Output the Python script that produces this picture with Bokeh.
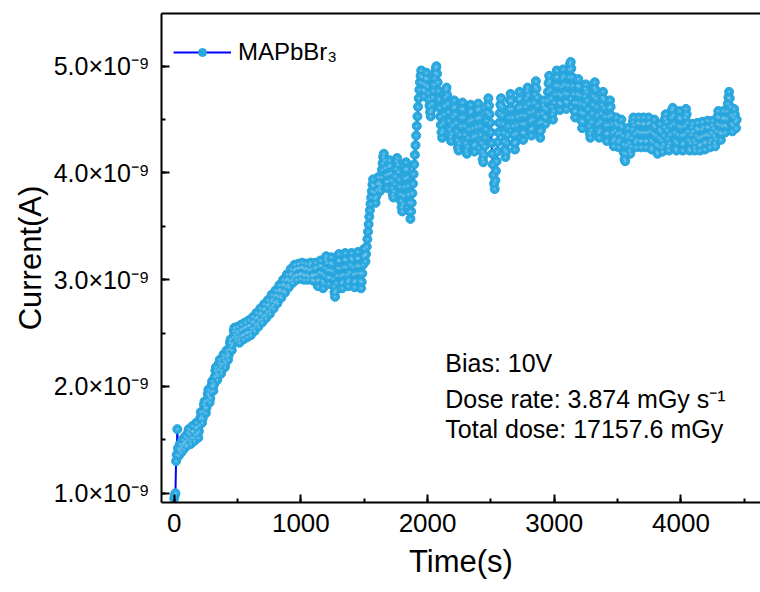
import numpy as np
from bokeh.plotting import figure
from bokeh.models import (Range1d, LinearAxis, SingleIntervalTicker, CustomJSTickFormatter,
                          Legend, LegendItem, Label, ColumnDataSource)
from bokeh.embed import file_html
from bokeh.resources import INLINE

# ---------------- data ----------------
series_name = "MAPbBr₃"
time_step_s = 5  # sampling interval of the read-off values (s)
# current in nA (×10⁻⁹ A), one value per 5 s (rows of 100 s)
current_nA = [
    0.95, 0.98, 1.00, 1.30, 1.36, 1.60, 1.42, 1.35, 1.40, 1.46, 1.42, 1.38, 1.44, 1.50, 1.46, 1.41, 1.47, 1.53, 1.49, 1.44,
    1.45, 1.51, 1.57, 1.60, 1.55, 1.49, 1.46, 1.52, 1.58, 1.63, 1.58, 1.52, 1.49, 1.55, 1.61, 1.66, 1.62, 1.56, 1.52, 1.58,
    1.64, 1.70, 1.76, 1.72, 1.66, 1.70, 1.77, 1.83, 1.86, 1.80, 1.75, 1.80, 1.87, 1.93, 1.97, 1.91, 1.85, 1.89, 1.95, 2.01,
    2.05, 2.00, 1.96, 2.02, 2.09, 2.15, 2.18, 2.12, 2.06, 2.10, 2.16, 2.22, 2.25, 2.19, 2.12, 2.15, 2.21, 2.27, 2.30, 2.24,
    2.18, 2.22, 2.28, 2.34, 2.31, 2.25, 2.29, 2.35, 2.41, 2.44, 2.38, 2.34, 2.40, 2.46, 2.52, 2.55, 2.49, 2.43, 2.46, 2.52,
    2.56, 2.50, 2.44, 2.41, 2.47, 2.53, 2.58, 2.54, 2.48, 2.44, 2.49, 2.55, 2.60, 2.56, 2.50, 2.46, 2.51, 2.57, 2.62, 2.57,
    2.51, 2.48, 2.54, 2.60, 2.65, 2.61, 2.55, 2.52, 2.58, 2.64, 2.69, 2.65, 2.59, 2.56, 2.62, 2.68, 2.73, 2.69, 2.63, 2.60,
    2.66, 2.72, 2.77, 2.73, 2.67, 2.64, 2.70, 2.76, 2.81, 2.77, 2.71, 2.68, 2.74, 2.80, 2.86, 2.82, 2.76, 2.73, 2.79, 2.85,
    2.90, 2.86, 2.80, 2.78, 2.84, 2.90, 2.95, 2.91, 2.85, 2.83, 2.89, 2.95, 3.00, 2.96, 2.90, 2.88, 2.94, 3.00, 3.05, 3.01,
    2.95, 2.93, 2.99, 3.05, 3.10, 3.06, 3.00, 2.97, 3.03, 3.09, 3.14, 3.10, 3.04, 3.00, 3.05, 3.11, 3.15, 3.11, 3.05, 3.01,
    3.06, 3.12, 3.16, 3.11, 3.05, 3.00, 3.04, 3.10, 3.15, 3.11, 3.05, 3.00, 3.03, 3.09, 3.14, 3.16, 3.10, 3.04, 3.00, 3.04,
    2.99, 3.05, 3.11, 3.16, 3.12, 3.05, 2.99, 2.94, 3.00, 3.07, 3.13, 3.18, 3.13, 3.06, 2.99, 2.92, 2.97, 3.04, 3.11, 3.19,
    3.22, 3.16, 3.09, 3.02, 2.96, 3.02, 3.09, 3.16, 3.21, 3.15, 3.08, 3.01, 2.94, 2.88, 2.84, 2.90, 2.97, 3.04, 3.11, 3.18,
    3.24, 3.18, 3.11, 3.04, 2.97, 2.92, 2.98, 3.05, 3.12, 3.19, 3.25, 3.19, 3.12, 3.05, 2.98, 2.94, 3.00, 3.07, 3.14, 3.20,
    3.25, 3.19, 3.12, 3.05, 2.98, 2.93, 2.99, 3.06, 3.13, 3.20, 3.26, 3.20, 3.13, 3.06, 2.99, 2.92, 2.98, 3.06, 3.14, 3.22,
    3.29, 3.23, 3.17, 3.24, 3.31, 3.38, 3.45, 3.52, 3.59, 3.65, 3.71, 3.77, 3.83, 3.89, 3.94, 3.88, 3.82, 3.76, 3.72, 3.78,
    3.84, 3.90, 3.96, 3.91, 3.86, 3.83, 3.89, 3.96, 4.03, 4.09, 4.15, 4.18, 4.12, 4.05, 3.98, 3.92, 3.86, 3.92, 3.99, 4.06,
    4.12, 4.07, 4.00, 3.93, 3.86, 3.80, 3.77, 3.83, 3.90, 3.97, 4.04, 4.11, 4.14, 4.08, 4.01, 3.94, 3.87, 3.80, 3.74, 3.68,
    3.64, 3.71, 3.79, 3.87, 3.95, 4.03, 4.10, 4.04, 3.96, 3.88, 3.80, 3.72, 3.64, 3.57, 3.64, 3.72, 3.81, 3.90, 3.99, 4.08,
    4.17, 4.26, 4.35, 4.44, 4.53, 4.62, 4.70, 4.78, 4.85, 4.91, 4.96, 4.90, 4.84, 4.78, 4.72, 4.77, 4.83, 4.89, 4.94, 4.88,
    4.81, 4.75, 4.69, 4.63, 4.57, 4.53, 4.59, 4.65, 4.71, 4.77, 4.83, 4.89, 4.94, 4.98, 5.00, 4.93, 4.85, 4.77, 4.69, 4.61,
    4.53, 4.45, 4.38, 4.33, 4.40, 4.47, 4.55, 4.63, 4.71, 4.78, 4.80, 4.73, 4.65, 4.57, 4.49, 4.41, 4.34, 4.30, 4.37, 4.45,
    4.53, 4.61, 4.68, 4.62, 4.55, 4.47, 4.39, 4.31, 4.24, 4.21, 4.28, 4.36, 4.44, 4.52, 4.60, 4.66, 4.60, 4.52, 4.44, 4.36,
    4.28, 4.21, 4.18, 4.25, 4.33, 4.41, 4.49, 4.57, 4.64, 4.58, 4.50, 4.42, 4.34, 4.26, 4.20, 4.27, 4.35, 4.43, 4.51, 4.59,
    4.65, 4.60, 4.52, 4.44, 4.36, 4.28, 4.20, 4.13, 4.10, 4.17, 4.25, 4.33, 4.41, 4.49, 4.57, 4.64, 4.70, 4.63, 4.55, 4.47,
    4.38, 4.28, 4.18, 4.08, 3.98, 3.90, 3.85, 3.93, 4.02, 4.11, 4.20, 4.29, 4.38, 4.47, 4.56, 4.64, 4.70, 4.62, 4.54, 4.46,
    4.38, 4.30, 4.22, 4.15, 4.20, 4.28, 4.36, 4.44, 4.52, 4.60, 4.68, 4.74, 4.68, 4.60, 4.52, 4.44, 4.36, 4.28, 4.22, 4.29,
    4.37, 4.45, 4.53, 4.61, 4.69, 4.76, 4.70, 4.62, 4.54, 4.46, 4.38, 4.31, 4.38, 4.46, 4.54, 4.62, 4.70, 4.77, 4.80, 4.73,
    4.65, 4.57, 4.49, 4.41, 4.35, 4.42, 4.50, 4.58, 4.66, 4.74, 4.81, 4.86, 4.79, 4.71, 4.63, 4.55, 4.47, 4.39, 4.33, 4.40,
    4.48, 4.56, 4.64, 4.68, 4.61, 4.53, 4.46, 4.52, 4.60, 4.68, 4.76, 4.84, 4.91, 4.86, 4.78, 4.70, 4.62, 4.55, 4.50, 4.58,
    4.66, 4.74, 4.82, 4.90, 4.96, 4.90, 4.82, 4.74, 4.66, 4.59, 4.65, 4.73, 4.81, 4.89, 4.97, 4.91, 4.83, 4.75, 4.67, 4.60,
    4.66, 4.74, 4.82, 4.90, 4.97, 5.02, 5.04, 4.98, 4.90, 4.82, 4.74, 4.66, 4.58, 4.52, 4.58, 4.66, 4.74, 4.82, 4.88, 4.81,
    4.73, 4.65, 4.57, 4.49, 4.42, 4.48, 4.56, 4.64, 4.72, 4.79, 4.83, 4.76, 4.68, 4.60, 4.52, 4.44, 4.37, 4.33, 4.40, 4.48,
    4.56, 4.64, 4.72, 4.80, 4.85, 4.78, 4.70, 4.62, 4.54, 4.46, 4.38, 4.33, 4.40, 4.48, 4.56, 4.64, 4.71, 4.76, 4.69, 4.61,
    4.53, 4.45, 4.37, 4.30, 4.37, 4.45, 4.53, 4.61, 4.68, 4.62, 4.54, 4.46, 4.38, 4.30, 4.25, 4.32, 4.40, 4.47, 4.52, 4.45,
    4.37, 4.29, 4.24, 4.31, 4.38, 4.45, 4.50, 4.43, 4.35, 4.27, 4.19, 4.13, 4.11, 4.18, 4.26, 4.34, 4.42, 4.36, 4.28, 4.21,
    4.18, 4.25, 4.33, 4.41, 4.48, 4.52, 4.45, 4.37, 4.29, 4.24, 4.31, 4.39, 4.47, 4.52, 4.46, 4.38, 4.30, 4.24, 4.30, 4.38,
    4.46, 4.52, 4.46, 4.38, 4.30, 4.24, 4.30, 4.38, 4.46, 4.52, 4.47, 4.39, 4.31, 4.24, 4.22, 4.29, 4.37, 4.45, 4.50, 4.43,
    4.35, 4.27, 4.20, 4.18, 4.25, 4.33, 4.41, 4.46, 4.39, 4.31, 4.24, 4.20, 4.27, 4.35, 4.43, 4.51, 4.55, 4.48, 4.40, 4.32,
    4.25, 4.21, 4.28, 4.36, 4.44, 4.52, 4.59, 4.61, 4.54, 4.46, 4.38, 4.30, 4.23, 4.21, 4.28, 4.36, 4.44, 4.52, 4.58, 4.51,
    4.43, 4.35, 4.27, 4.21, 4.28, 4.36, 4.44, 4.52, 4.60, 4.55, 4.47, 4.39, 4.31, 4.23, 4.21, 4.28, 4.36, 4.43, 4.46, 4.39,
    4.31, 4.24, 4.21, 4.28, 4.35, 4.42, 4.47, 4.41, 4.33, 4.26, 4.21, 4.27, 4.34, 4.41, 4.48, 4.43, 4.35, 4.28, 4.22, 4.29,
    4.36, 4.43, 4.49, 4.43, 4.35, 4.28, 4.24, 4.31, 4.38, 4.45, 4.49, 4.42, 4.35, 4.28, 4.25, 4.32, 4.39, 4.46, 4.53, 4.58,
    4.52, 4.45, 4.38, 4.31, 4.37, 4.44, 4.51, 4.58, 4.52, 4.45, 4.38, 4.44, 4.51, 4.58, 4.65, 4.71, 4.76, 4.70, 4.62, 4.54,
    4.46, 4.39, 4.45, 4.52, 4.60, 4.55, 4.48, 4.42, 4.50,
]
time_s = [i * time_step_s for i in range(len(current_nA))]
current_A = [v * 1e-9 for v in current_nA]

x_title = "Time(s)"
y_title = "Current(A)"
annotation_lines = ["Bias: 10V", "Dose rate: 3.874 mGy s⁻¹", "Total dose: 17157.6 mGy"]

# ---------------- figure ----------------
FONT = "Liberation Sans"
p = figure(width=760, height=592,
           x_range=Range1d(-100, 4628), y_range=Range1d(0.913e-9, 5.494e-9),
           output_backend="svg", toolbar_location=None,
           min_border_left=161, min_border_right=0, min_border_top=13, min_border_bottom=90)
p.outline_line_color = None
p.grid.visible = False
p.background_fill_color = "white"
p.border_fill_color = "white"

src = ColumnDataSource(dict(t=time_s, i=current_A))
line_r = p.line("t", "i", source=src, line_color="#0000ff", line_width=2)
scat_r = p.scatter("t", "i", source=src, size=9, marker="circle",
                   fill_color="#2aa8e0", line_color="#27a3dc", line_width=1)
hl_r = p.scatter("t", "i", source=src, size=3, marker="circle",
                 fill_color="#c6e8f8", line_color=None, fill_alpha=0.3)

# axes
for ax in (p.xaxis[0], p.yaxis[0]):
    ax.axis_line_width = 2
    ax.axis_line_color = "black"
    ax.major_tick_line_width = 2
    ax.minor_tick_line_width = 2
    ax.major_tick_line_color = "black"
    ax.minor_tick_line_color = "black"
    ax.major_tick_in = 8
    ax.major_tick_out = 0
    ax.minor_tick_in = 4
    ax.minor_tick_out = 0
    ax.major_label_text_font = FONT
    ax.major_label_text_color = "black"
    ax.axis_label_text_font = FONT
    ax.axis_label_text_font_style = "normal"
    ax.axis_label_text_color = "black"
    ax.axis_label_text_font_size = "31px"

p.xaxis[0].ticker = SingleIntervalTicker(interval=1000, num_minor_ticks=2)
p.xaxis[0].major_label_text_font_size = "26px"
p.xaxis[0].major_label_standoff = 11
p.xaxis[0].axis_label = x_title
p.xaxis[0].axis_label_standoff = 9

p.yaxis[0].ticker = SingleIntervalTicker(interval=1e-9, num_minor_ticks=2)
p.yaxis[0].formatter = CustomJSTickFormatter(code="return (tick*1e9).toFixed(1) + '×10⁻⁹';")
p.yaxis[0].major_label_text_font_size = "25px"
p.yaxis[0].major_label_standoff = 12
p.yaxis[0].axis_label = y_title
p.yaxis[0].axis_label_standoff = 3

top = LinearAxis(axis_line_width=2, axis_line_color="black",
                 major_tick_line_color=None, minor_tick_line_color=None,
                 major_label_text_font_size="0px", major_label_standoff=0,
                 major_label_text_color=None)
p.add_layout(top, "above")

# legend
legend = Legend(items=[LegendItem(label=series_name, renderers=[line_r, scat_r])],
                location=(12, 436), margin=0, padding=8,
                glyph_width=58, glyph_height=20, label_standoff=7,
                label_text_font=FONT, label_text_font_size="24px",
                label_text_color="black", label_text_baseline="middle",
                border_line_color=None, background_fill_alpha=0)
p.add_layout(legend)

# annotation text block
ann_x = 2140
ann_y_nA = [2.224, 1.887, 1.606]
for txt, yv in zip(annotation_lines, ann_y_nA):
    p.add_layout(Label(x=ann_x, y=yv * 1e-9, text=txt, text_font=FONT,
                       text_font_size="25px", text_color="black",
                       text_baseline="alphabetic", text_align="left"))

open("out.html", "w").write(file_html(p, INLINE))
